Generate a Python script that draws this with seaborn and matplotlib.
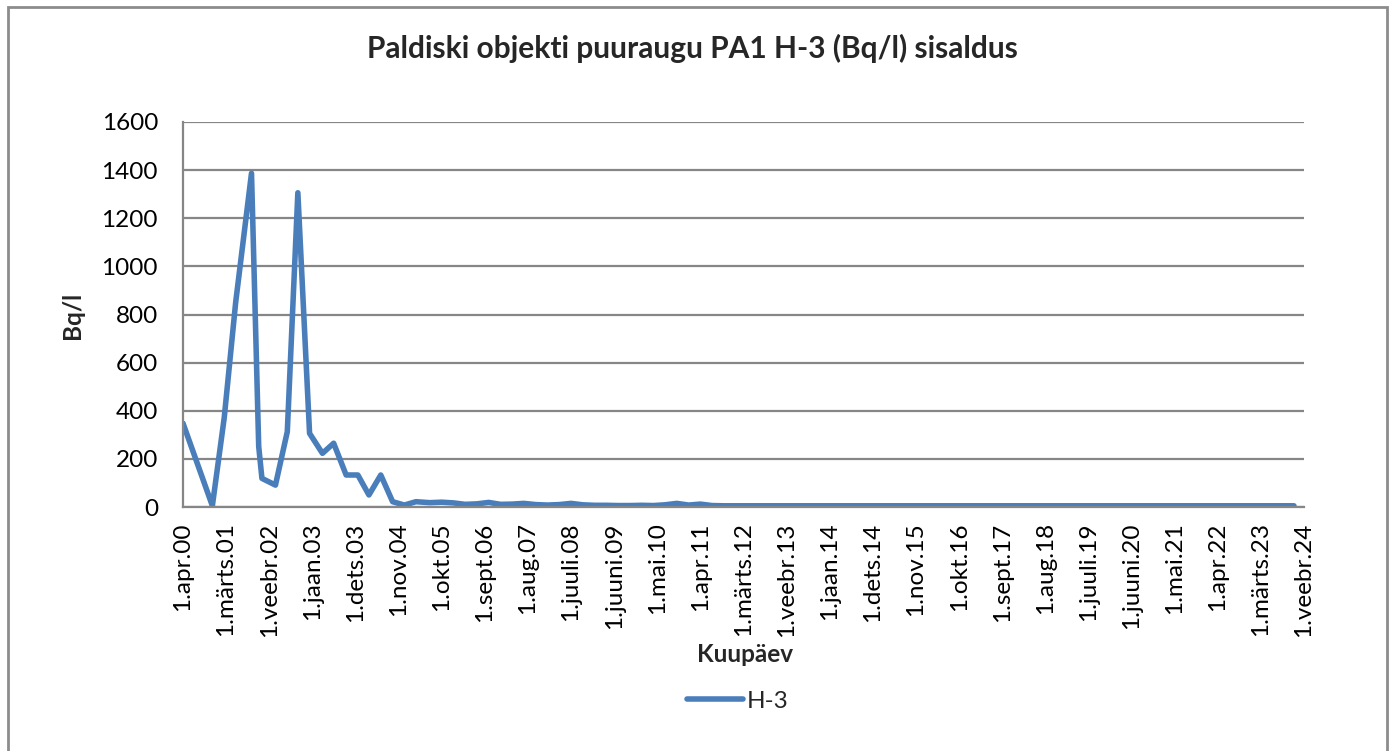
import matplotlib
matplotlib.use("Agg")
import matplotlib.pyplot as plt
from matplotlib.patches import Rectangle
import seaborn as sns
import pandas as pd

sns.set_style("white")
plt.rcParams['font.family'] = ['Lato', 'DejaVu Sans']

# ---- data ----
sample_dates = [
    "2000-04-01", "2000-11-15", "2001-02-15", "2001-05-15", "2001-09-15",
    "2001-11-10", "2001-12-05", "2002-03-20", "2002-06-20", "2002-09-10",
    "2002-12-10", "2003-03-20", "2003-06-15", "2003-09-20", "2003-12-20",
    "2004-03-15", "2004-06-15", "2004-09-15", "2004-12-15", "2005-03-15",
    "2005-07-01", "2005-10-01", "2006-01-01", "2006-04-01", "2006-07-01",
    "2006-10-01", "2007-01-01", "2007-04-01", "2007-07-01", "2007-10-01",
    "2008-01-01", "2008-04-01", "2008-07-01", "2008-10-01", "2009-01-01",
    "2009-04-01", "2009-07-01", "2009-10-01", "2010-01-01", "2010-04-01",
    "2010-07-01", "2010-10-01", "2011-01-01", "2011-04-01", "2011-07-01",
    "2011-10-01", "2012-04-01", "2012-10-01", "2013-04-01", "2013-10-01",
    "2014-04-01", "2014-10-01", "2015-04-01", "2015-10-01", "2016-04-01",
    "2016-10-01", "2017-04-01", "2017-10-01", "2018-04-01", "2018-10-01",
    "2019-04-01", "2019-10-01", "2020-04-01", "2020-10-01", "2021-04-01",
    "2021-10-01", "2022-04-01", "2022-10-01", "2023-04-01", "2023-11-15",
]
h3_values = [
    348, 5, 370, 850, 1387,
    251, 119, 91, 313, 1306,
    306, 223, 265, 133, 133,
    50, 133, 22, 8, 22,
    18, 20, 17, 11, 13,
    19, 11, 12, 15, 10,
    8, 10, 15, 9, 7,
    7, 6, 6, 7, 6,
    9, 15, 8, 12, 6,
    5, 5, 5, 5, 5,
    5, 5, 5, 5, 5,
    5, 5, 5, 5, 5,
    5, 5, 5, 5, 5,
    5, 5, 5, 5, 5,
]
series_name = "H-3"

month_names = ["jaan", "veebr", "märts", "apr", "mai", "juuni",
               "juuli", "aug", "sept", "okt", "nov", "dets"]
y_ticks = [0, 200, 400, 600, 800, 1000, 1200, 1400, 1600]

title_text = "Paldiski objekti puuraugu PA1 H-3 (Bq/l) sisaldus"
x_label = "Kuupäev"
y_label = "Bq/l"

# ---- figure ----
W, H = 1392, 751
fig = plt.figure(figsize=(W / 100, H / 100), dpi=100)
ax = fig.add_axes([183 / W, 1 - 507 / H, (1304 - 183) / W, (507 - 122) / H])

df = pd.DataFrame({"date": pd.to_datetime(sample_dates), "value": h3_values})
line_color = "#4A7EBB"
sns.lineplot(data=df, x="date", y="value", ax=ax, color=line_color,
             linewidth=4.0, label=series_name, legend=False,
             solid_capstyle="round", solid_joinstyle="round")

# x ticks every 11 months from 1.apr.00
start = pd.Timestamp("2000-04-01")
tick_dates = [start + pd.DateOffset(months=11 * k) for k in range(27)]
ax.set_xlim(tick_dates[0], tick_dates[-1])
ax.set_xticks(tick_dates)
ax.set_xticklabels([f"1.{month_names[d.month - 1]}.{d.year % 100:02d}" for d in tick_dates],
                   rotation=90, fontsize=17.5)

ax.set_ylim(0, 1600)
ax.set_yticks(y_ticks)
ax.set_yticklabels([str(v) for v in y_ticks], fontsize=17.5)

grid_c = "#868686"
ax.grid(axis="y", color=grid_c, linewidth=1.6)
ax.grid(axis="x", visible=False)
ax.set_axisbelow(True)
for s in ["top", "right"]:
    ax.spines[s].set_visible(False)
for s in ["left", "bottom"]:
    ax.spines[s].set_color(grid_c)
    ax.spines[s].set_linewidth(1.6)
ax.tick_params(axis="both", direction="out", length=7, width=1.6,
               color=grid_c, labelcolor="black")
ax.tick_params(axis="y", pad=11)
ax.tick_params(axis="x", pad=4)

ax.set_xlabel("")
ax.set_ylabel("")
fig.text(692 / W, 1 - 48 / H, title_text, ha="center", va="center",
         fontsize=21.5, fontweight="bold")
fig.text(745 / W, 1 - 655 / H, x_label, ha="center", va="center",
         fontsize=17.5, fontweight="bold")
fig.text(72 / W, 1 - 315 / H, y_label, ha="center", va="center",
         fontsize=17.5, fontweight="bold", rotation=90)

handles, labels = ax.get_legend_handles_labels()
fig.legend(handles, labels, loc="center", bbox_to_anchor=(738 / W, 1 - 701 / H),
           frameon=False, fontsize=17.5, handlelength=2.3, handletextpad=0.15)

fig.patches.append(Rectangle((8 / W, -0.02), (1387 - 8) / W, 1 - 7 / H + 0.02,
                             transform=fig.transFigure, fill=False,
                             edgecolor="#8C8C8C", linewidth=2))

fig.savefig("out.png", dpi=100, facecolor="white")
